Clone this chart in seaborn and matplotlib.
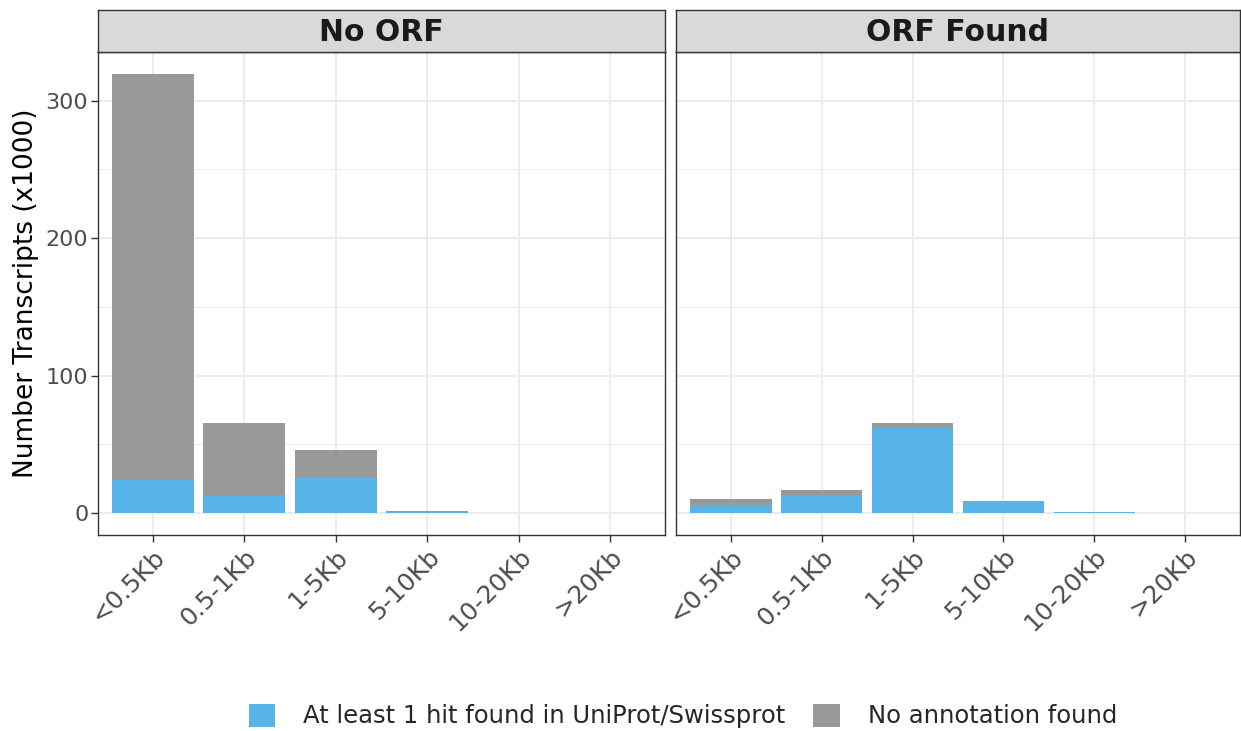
import matplotlib
matplotlib.use("Agg")
import matplotlib.pyplot as plt
import pandas as pd
import seaborn as sns
from matplotlib.patches import Patch
from matplotlib.ticker import MultipleLocator

# Data (thousands of transcripts)
sizes = ["<0.5Kb", "0.5-1Kb", "1-5Kb", "5-10Kb", "10-20Kb", ">20Kb"]
facets = ["No ORF", "ORF Found"]
no_orf_hit = [24.8, 13.2, 25.5, 1.0, 0.0, 0.0]
no_orf_none = [294.6, 52.4, 20.3, 0.2, 0.0, 0.0]
orf_hit = [6.0, 13.0, 61.6, 8.4, 0.8, 0.0]
orf_none = [4.3, 3.6, 3.7, 0.3, 0.0, 0.0]

labels = ["At least 1 hit found in UniProt/Swissprot", "No annotation found"]
colors = ["#56B4E9", "#999999"]

rows = []
for facet, hit, none in [("No ORF", no_orf_hit, no_orf_none),
                         ("ORF Found", orf_hit, orf_none)]:
    for s, h, n in zip(sizes, hit, none):
        rows.append({"facet": facet, "size": s, "hit": h, "total": h + n})
df = pd.DataFrame(rows)

sns.set_style("white")
plt.rcParams['font.family'] = ['DejaVu Sans']

W, H = 1241, 731
fig = plt.figure(figsize=(W / 100, H / 100), dpi=100)

panels = [(98, 567), (676, 564)]
top, bottom = 52, 535
strip_top = 10
grey20 = "#333333"

for i, (facet, (left, width)) in enumerate(zip(facets, panels)):
    ax = fig.add_axes([left / W, (H - bottom) / H, width / W, (bottom - top) / H])
    sub = df[df['facet'] == facet]
    # stacked: total in grey, hits drawn over it in blue
    sns.barplot(data=sub, x='size', y='total', order=sizes, color=colors[1],
                width=0.9, saturation=1, linewidth=0, ax=ax, zorder=2)
    sns.barplot(data=sub, x='size', y='hit', order=sizes, color=colors[0],
                width=0.9, saturation=1, linewidth=0, ax=ax, zorder=3)
    ax.set_xlim(-0.6, 5.6)
    ax.set_ylim(-16, 335.4)
    ax.yaxis.set_major_locator(MultipleLocator(100))
    ax.yaxis.set_minor_locator(MultipleLocator(50))
    ax.grid(True, which='major', color="#EBEBEB", lw=1.3, zorder=0)
    ax.grid(True, which='minor', axis='y', color="#EBEBEB", lw=0.7, zorder=0)
    ax.set_axisbelow(True)
    for sp in ax.spines.values():
        sp.set_color(grey20)
        sp.set_linewidth(1.0)
        sp.set_visible(True)
    ax.set_xlabel("")
    ax.tick_params(axis='x', which='major', length=5, width=1, color=grey20,
                   labelsize=18, labelcolor="#4D4D4D", bottom=True, pad=2)
    ax.tick_params(axis='y', which='minor', left=False)
    plt.setp(ax.get_xticklabels(), rotation=45, ha='right', va='top',
             rotation_mode='anchor')
    if i == 0:
        ax.tick_params(axis='y', which='major', length=5, width=1, color=grey20,
                       labelsize=16, labelcolor="#4D4D4D", left=True, pad=2)
        ax.set_ylabel("Number Transcripts (x1000)", fontsize=19, color="black",
                      labelpad=5)
    else:
        ax.set_ylabel("")
        ax.tick_params(axis='y', which='both', left=False, labelleft=False)

    # facet strip
    sax = fig.add_axes([left / W, (H - top) / H, width / W, (top - strip_top) / H])
    sax.set_facecolor("#D9D9D9")
    sax.set_xticks([])
    sax.set_yticks([])
    for sp in sax.spines.values():
        sp.set_color(grey20)
        sp.set_linewidth(1.0)
        sp.set_visible(True)
    sax.text(0.5, 0.47, facet, transform=sax.transAxes, ha='center', va='center',
             fontsize=21.5, fontweight='bold', color="#1A1A1A")

handles = [Patch(facecolor=c, edgecolor='none', label=l) for c, l in zip(colors, labels)]
fig.legend(handles=handles, loc='center', bbox_to_anchor=(683 / W, (H - 716) / H),
           ncol=2, frameon=False, fontsize=17.5, handlelength=1.1, handleheight=1.1,
           handletextpad=1.15, columnspacing=1.15)

fig.savefig("out.png", dpi=100)
